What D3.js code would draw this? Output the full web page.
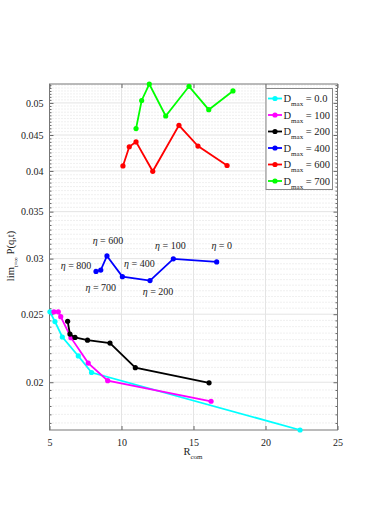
<!DOCTYPE html>
<html>
<head>
<meta charset="utf-8">
<script src="https://cdn.jsdelivr.net/npm/d3@7"></script>
<style>
  body { margin: 0; background: #fff; }
  svg { display: block; }
  text { font-family: "Liberation Serif", "DejaVu Serif", serif; }
</style>
</head>
<body>
<svg width="374" height="529"></svg>
<script>
// values
var rCyan    = [5.03, 5.38, 5.89, 7.0, 7.92, 22.4];
var pCyan    = [0.0252, 0.0244, 0.0232, 0.0218, 0.02065, 0.0171];
var rMagenta = [5.31, 5.61, 5.78, 6.49, 7.69, 9.04, 16.22];
var pMagenta = [0.0252, 0.0252, 0.0248, 0.02315, 0.0213, 0.0201, 0.01879];
var rBlack   = [6.26, 6.42, 6.77, 7.64, 9.20, 10.96, 16.08];
var pBlack   = [0.02443, 0.02342, 0.02317, 0.02296, 0.02274, 0.02098, 0.01996];
var rBlue    = [8.23, 8.56, 8.99, 10.06, 11.98, 13.60, 16.61];
var pBlue    = [0.02877, 0.0289, 0.03027, 0.02828, 0.02792, 0.02998, 0.02968];
var rRed     = [10.10, 10.54, 11.01, 12.17, 13.99, 15.31, 17.33];
var pRed     = [0.04066, 0.0433, 0.0440, 0.03995, 0.04646, 0.0434, 0.04072];
var rGreen   = [11.01, 11.40, 11.93, 13.07, 14.69, 16.06, 17.74];
var pGreen   = [0.04596, 0.0504, 0.0532, 0.0479, 0.0528, 0.0489, 0.0520];

var dmaxLabels = ["0.0", "100", "200", "400", "600", "700"];
var etaLabels = ["800", "700", "600", "400", "200", "100", "0"];

var xTicks = [5, 10, 15, 20, 25];
var yTicks = [0.02, 0.025, 0.03, 0.035, 0.04, 0.045, 0.05];

var colors = ["#00ffff", "#ff00ff", "#000000", "#0000ff", "#ff0000", "#00ff00"];
// label offsets (px) from each blue point
var etaOffsets = [[-20, -6], [0, 17], [1, -15], [17, -13], [8, 11], [-3, -13], [5, -16]];

var series = [
  {r: rCyan, p: pCyan}, {r: rMagenta, p: pMagenta}, {r: rBlack, p: pBlack},
  {r: rBlue, p: pBlue}, {r: rRed, p: pRed}, {r: rGreen, p: pGreen}
];

var svg = d3.select("svg");
var mLeft = 49.5, mRight = 337.5, mTop = 84, mBottom = 430;

var x = d3.scaleLinear().domain([5, 25]).range([mLeft, mRight]);
var y = d3.scaleLog().domain([0.0171, 0.0532]).range([mBottom, mTop]);

// minor grid
var minor = d3.range(0.0175, 0.0531, 0.0005).map(function(v) { return +v.toFixed(4); })
  .filter(function(v) { return yTicks.indexOf(v) < 0; });

var grid = svg.append("g");
grid.selectAll(".mg").data(minor).enter().append("line")
  .attr("x1", mLeft).attr("x2", mRight)
  .attr("y1", function(d) { return y(d); }).attr("y2", function(d) { return y(d); })
  .attr("stroke", "#d8d8d8").attr("stroke-width", 0.8).attr("stroke-dasharray", "1,2");
grid.selectAll(".gy").data(yTicks).enter().append("line")
  .attr("x1", mLeft).attr("x2", mRight)
  .attr("y1", function(d) { return y(d); }).attr("y2", function(d) { return y(d); })
  .attr("stroke", "#e4e4e4").attr("stroke-width", 1);
grid.selectAll(".gx").data(xTicks.slice(1, -1)).enter().append("line")
  .attr("y1", mTop).attr("y2", mBottom)
  .attr("x1", function(d) { return x(d); }).attr("x2", function(d) { return x(d); })
  .attr("stroke", "#e4e4e4").attr("stroke-width", 1);

// axes with inward ticks on all sides
function styleAxis(g) {
  g.select(".domain").remove();
  g.selectAll("line").attr("stroke", "#666");
  g.selectAll("text").attr("font-size", 10).attr("fill", "#222")
    .attr("font-family", "Liberation Serif, serif");
}
svg.append("g").attr("transform", "translate(0," + mBottom + ")")
  .call(d3.axisBottom(x).tickValues(xTicks).tickSize(-4).tickPadding(9).tickFormat(d3.format("d")))
  .call(styleAxis);
svg.append("g").attr("transform", "translate(0," + mTop + ")")
  .call(d3.axisTop(x).tickValues(xTicks).tickSize(-4).tickFormat(""))
  .call(styleAxis);
svg.append("g").attr("transform", "translate(" + mLeft + ",0)")
  .call(d3.axisLeft(y).tickValues(yTicks).tickSize(-4).tickPadding(6).tickFormat(function(d) { return String(+d.toFixed(3)); }))
  .call(styleAxis);
svg.append("g").attr("transform", "translate(" + mRight + ",0)")
  .call(d3.axisRight(y).tickValues(yTicks).tickSize(-4).tickFormat(""))
  .call(styleAxis);
svg.append("g").attr("transform", "translate(" + mLeft + ",0)")
  .call(d3.axisLeft(y).tickValues(minor).tickSize(-2).tickFormat(""))
  .call(styleAxis);
svg.append("g").attr("transform", "translate(" + mRight + ",0)")
  .call(d3.axisRight(y).tickValues(minor).tickSize(-2).tickFormat(""))
  .call(styleAxis);

svg.append("rect").attr("x", mLeft).attr("y", mTop)
  .attr("width", mRight - mLeft).attr("height", mBottom - mTop)
  .attr("fill", "none").attr("stroke", "#777").attr("stroke-width", 1);

// series
var line = d3.line().x(function(d) { return x(d[0]); }).y(function(d) { return y(d[1]); });
series.forEach(function(s, i) {
  var pts = s.r.map(function(v, j) { return [v, s.p[j]]; });
  var g = svg.append("g");
  g.append("path").datum(pts).attr("d", line)
    .attr("fill", "none").attr("stroke", colors[i]).attr("stroke-width", 1.8);
  g.selectAll("circle").data(pts).enter().append("circle")
    .attr("cx", function(d) { return x(d[0]); })
    .attr("cy", function(d) { return y(d[1]); })
    .attr("r", 2.6).attr("fill", colors[i]);
});

// eta annotations
var eta = svg.append("g").attr("font-family", "Liberation Sans, Arial, sans-serif").attr("font-size", 10).attr("fill", "#222");
etaLabels.forEach(function(lab, i) {
  var t = eta.append("text")
    .attr("x", x(rBlue[i]) + etaOffsets[i][0])
    .attr("y", y(pBlue[i]) + etaOffsets[i][1] + 3.5)
    .attr("text-anchor", "middle")
    .attr("font-family", "Liberation Sans, Arial, sans-serif");
  t.append("tspan").attr("font-family", "Liberation Serif, serif").attr("font-style", "italic").text("\u03b7");
  t.append("tspan").text(" = " + lab);
});

// legend
var leg = svg.append("g");
leg.append("rect").attr("x", 266).attr("y", 88.5).attr("width", 66.5).attr("height", 101)
  .attr("fill", "#fff").attr("stroke", "#888").attr("stroke-width", 1);
dmaxLabels.forEach(function(lab, i) {
  var yy = 98.5 + i * 16.5;
  leg.append("line").attr("x1", 268).attr("x2", 282).attr("y1", yy).attr("y2", yy)
    .attr("stroke", colors[i]).attr("stroke-width", 1.8);
  leg.append("circle").attr("cx", 275).attr("cy", yy).attr("r", 2.6).attr("fill", colors[i]);
  var t = leg.append("text").attr("x", 283.5).attr("y", yy + 3.5).attr("font-size", 10.5).attr("fill", "#222");
  t.append("tspan").text("D");
  t.append("tspan").attr("font-size", 7).attr("dy", 4).text("max");
  t.append("tspan").attr("dy", -4).text(" = " + lab);
});

// axis titles
var xl = svg.append("text").attr("x", 193).attr("y", 455).attr("text-anchor", "middle")
  .attr("font-size", 10.5).attr("fill", "#222");
xl.append("tspan").text("R");
xl.append("tspan").attr("font-size", 7).attr("dy", 4).text("com");

var yl = svg.append("text").attr("transform", "translate(14,256) rotate(-90)")
  .attr("text-anchor", "middle").attr("font-size", 10.5).attr("fill", "#222");
yl.append("tspan").text("lim");
yl.append("tspan").attr("font-size", 6.5).attr("dy", 3.5).text("t=\u221e");
yl.append("tspan").attr("dy", -3.5).text(" P(q,t)");
</script>
</body>
</html>
